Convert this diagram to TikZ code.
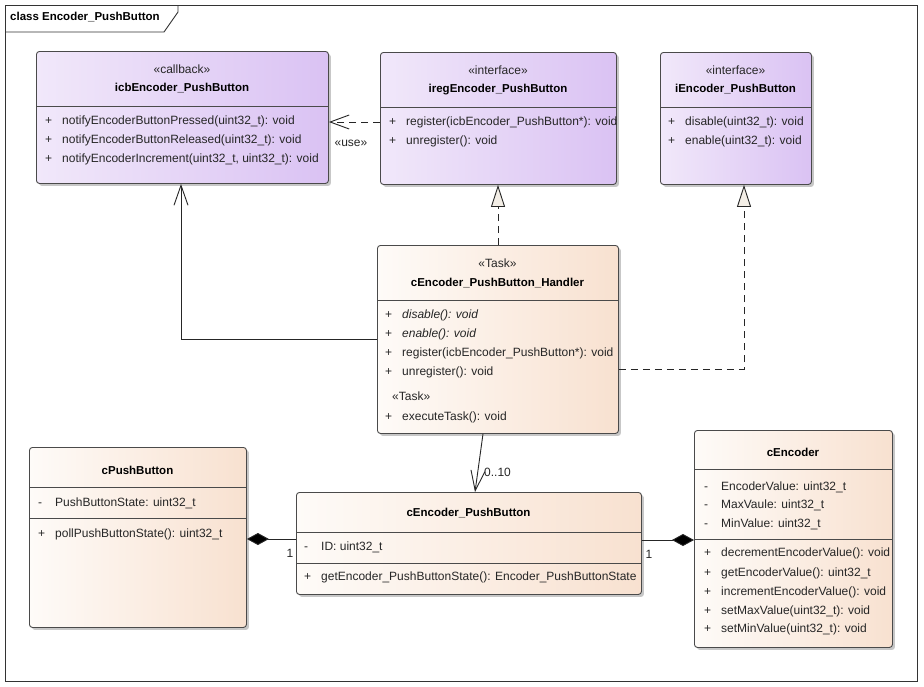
\documentclass[tikz,border=0pt]{standalone}
\usepackage{fontspec}
\setmainfont{Liberation Sans}
\usetikzlibrary{arrows.meta,shadows,calc}
\definecolor{pL}{HTML}{F1E8FA}
\definecolor{pR}{HTML}{DAC2F3}
\definecolor{bL}{HTML}{FEFBF8}
\definecolor{bR}{HTML}{F8E1D0}
\definecolor{edge}{HTML}{4A4A4A}
\definecolor{tri}{HTML}{F3EEE6}
\newcommand{\umlm}[2]{\makebox[17pt][l]{#1}#2}
\tikzset{
  box/.style={draw=edge, line width=0.9pt, rounded corners=3pt, anchor=north west, inner sep=0pt,
    drop shadow={shadow xshift=2.5pt, shadow yshift=-2.5pt, fill=black, opacity=0.22}},
  purp/.style={box, left color=pL, right color=pR},
  beig/.style={box, left color=bL, right color=bR},
  divl/.style={draw=edge, line width=0.9pt},
  txt/.style={anchor=west, inner sep=0pt, text height=9pt, text depth=1.5pt, text=black!85},
  ctr/.style={anchor=center, inner sep=0pt, text height=9pt, text depth=1.5pt, text=black!85},
  nm/.style={ctr, font=\fontsize{11.5}{13}\selectfont\bfseries, text=black},
  lbl/.style={ctr, text=black!85},
  conn/.style={draw=black!85, line width=0.9pt},
  dep/.style={conn, dash pattern=on 7pt off 5pt, -{Straight Barb[length=19pt,width=14pt,line width=0.9pt]}},
  assoc/.style={conn, -{Straight Barb[length=20pt,width=14pt,line width=0.9pt]}},
  real/.style={conn, dash pattern=on 7pt off 5pt, -{Triangle[length=22pt,width=14pt,fill=tri,line width=0.9pt]}},
  comp/.style={conn, {Diamond[length=22pt,width=12pt,fill=black]}-},
}
\begin{document}
\begin{tikzpicture}[x=1pt,y=-1pt,font=\fontsize{12}{14}\selectfont]
\useasboundingbox[fill=white] (0,0) rectangle (924,686);
% frame
\draw[line width=0.9pt, draw=black!80] (5,5) rectangle (917,681);
\draw[line width=0.9pt, draw=black!80] (5,32) -- (164,32) -- (178,12) -- (178,5);
\node[anchor=west, inner sep=0pt, font=\fontsize{11.5}{13}\selectfont\bfseries] (title) at (10,17) {class Encoder\_PushButton};

% icbEncoder_PushButton
\node[purp, minimum width=292pt, minimum height=132pt] (icb) at (36,51) {};
\draw[divl] (icb.west |- 0,106) -- (icb.east |- 0,106);
\node[lbl] (icb-st) at (182,70) {«callback»};
\node[nm] (icb-nm) at (182,88) {icbEncoder\_PushButton};
\node[txt] (icb-m1) at (45,121) {\umlm{+}{notifyEncoderButtonPressed(uint32\_t): void}};
\node[txt] (icb-m2) at (45,140) {\umlm{+}{notifyEncoderButtonReleased(uint32\_t): void}};
\node[txt] (icb-m3) at (45,159) {\umlm{+}{notifyEncoderIncrement(uint32\_t, uint32\_t): void}};

% iregEncoder_PushButton
\node[purp, minimum width=236pt, minimum height=132pt] (ireg) at (380,52) {};
\draw[divl] (ireg.west |- 0,107) -- (ireg.east |- 0,107);
\node[lbl] (ireg-st) at (498,71) {«interface»};
\node[nm] (ireg-nm) at (498,89) {iregEncoder\_PushButton};
\node[txt] (ireg-m1) at (389,122) {\umlm{+}{register(icbEncoder\_PushButton*): void}};
\node[txt] (ireg-m2) at (389,141) {\umlm{+}{unregister(): void}};

% iEncoder_PushButton
\node[purp, minimum width=151pt, minimum height=132pt] (ienc) at (660,52) {};
\draw[divl] (ienc.west |- 0,107) -- (ienc.east |- 0,107);
\node[lbl] (ienc-st) at (735.5,71) {«interface»};
\node[nm] (ienc-nm) at (735.5,89) {iEncoder\_PushButton};
\node[txt] (ienc-m1) at (668,122) {\umlm{+}{disable(uint32\_t): void}};
\node[txt] (ienc-m2) at (668,141) {\umlm{+}{enable(uint32\_t): void}};

% cEncoder_PushButton_Handler
\node[beig, minimum width=241pt, minimum height=188pt] (hdl) at (377,245) {};
\draw[divl] (hdl.west |- 0,300) -- (hdl.east |- 0,300);
\node[lbl] (hdl-st) at (497.5,264) {«Task»};
\node[nm] (hdl-nm) at (497.5,283) {cEncoder\_PushButton\_Handler};
\node[txt] (hdl-m1) at (385,315) {\umlm{+}{\itshape disable(): void}};
\node[txt] (hdl-m2) at (385,334) {\umlm{+}{\itshape enable(): void}};
\node[txt] (hdl-m3) at (385,353) {\umlm{+}{register(icbEncoder\_PushButton*): void}};
\node[txt] (hdl-m4) at (385,372) {\umlm{+}{unregister(): void}};
\node[txt] (hdl-st2) at (392,397) {«Task»};
\node[txt] (hdl-m5) at (385,417) {\umlm{+}{executeTask(): void}};

% cPushButton
\node[beig, minimum width=217pt, minimum height=180pt] (cpb) at (29,447) {};
\draw[divl] (cpb.west |- 0,487) -- (cpb.east |- 0,487);
\draw[divl] (cpb.west |- 0,518) -- (cpb.east |- 0,518);
\node[nm] (cpb-nm) at (137.5,471) {cPushButton};
\node[txt] (cpb-a1) at (38,503) {\umlm{-}{PushButtonState: uint32\_t}};
\node[txt] (cpb-m1) at (38,534) {\umlm{+}{pollPushButtonState(): uint32\_t}};

% cEncoder_PushButton
\node[beig, minimum width=345pt, minimum height=102pt] (cep) at (296,492) {};
\draw[divl] (cep.west |- 0,532) -- (cep.east |- 0,532);
\draw[divl] (cep.west |- 0,563) -- (cep.east |- 0,563);
\node[nm] (cep-nm) at (468.5,513) {cEncoder\_PushButton};
\node[txt] (cep-a1) at (304,547) {\umlm{-}{ID: uint32\_t}};
\node[txt] (cep-m1) at (304,577) {\umlm{+}{getEncoder\_PushButtonState(): Encoder\_PushButtonState}};

% cEncoder
\node[beig, minimum width=198pt, minimum height=217pt] (cenc) at (694,430) {};
\draw[divl] (cenc.west |- 0,469) -- (cenc.east |- 0,469);
\draw[divl] (cenc.west |- 0,539) -- (cenc.east |- 0,539);
\node[nm] (cenc-nm) at (793,453) {cEncoder};
\node[txt] (cenc-a1) at (704,487) {\umlm{-}{EncoderValue: uint32\_t}};
\node[txt] (cenc-a2) at (704,505) {\umlm{-}{MaxVaule: uint32\_t}};
\node[txt] (cenc-a3) at (704,524) {\umlm{-}{MinValue: uint32\_t}};
\node[txt] (cenc-m1) at (704,553) {\umlm{+}{decrementEncoderValue(): void}};
\node[txt] (cenc-m2) at (704,573) {\umlm{+}{getEncoderValue(): uint32\_t}};
\node[txt] (cenc-m3) at (704,592) {\umlm{+}{incrementEncoderValue(): void}};
\node[txt] (cenc-m4) at (704,611) {\umlm{+}{setMaxValue(uint32\_t): void}};
\node[txt] (cenc-m5) at (704,629) {\umlm{+}{setMinValue(uint32\_t): void}};

% connectors
\draw[dep] (ireg.west |- 0,122) -- (icb.east |- 0,122);
\node[lbl] (use) at (351,143) {«use»};
\draw[assoc] (hdl.west |- 0,339) -| (icb.south -| 181,0);
\draw[real] (hdl.north -| 498,0) -- (ireg.south -| 498,0);
\draw[real] (hdl.east |- 0,369) -| (ienc.south -| 744,0);
\draw[assoc] (hdl.south -| 483,0) -- (cep.north -| 475,0);
\node[txt] (mult) at (484,473) {0..10};
\draw[comp] (cpb.east |- 0,539) -- (cep.west |- 0,539);
\node[lbl] (m1) at (290,554) {1};
\draw[comp] (cenc.west |- 0,540) -- (cep.east |- 0,540);
\node[lbl] (m2) at (649,555) {1};
\end{tikzpicture}
\end{document}
